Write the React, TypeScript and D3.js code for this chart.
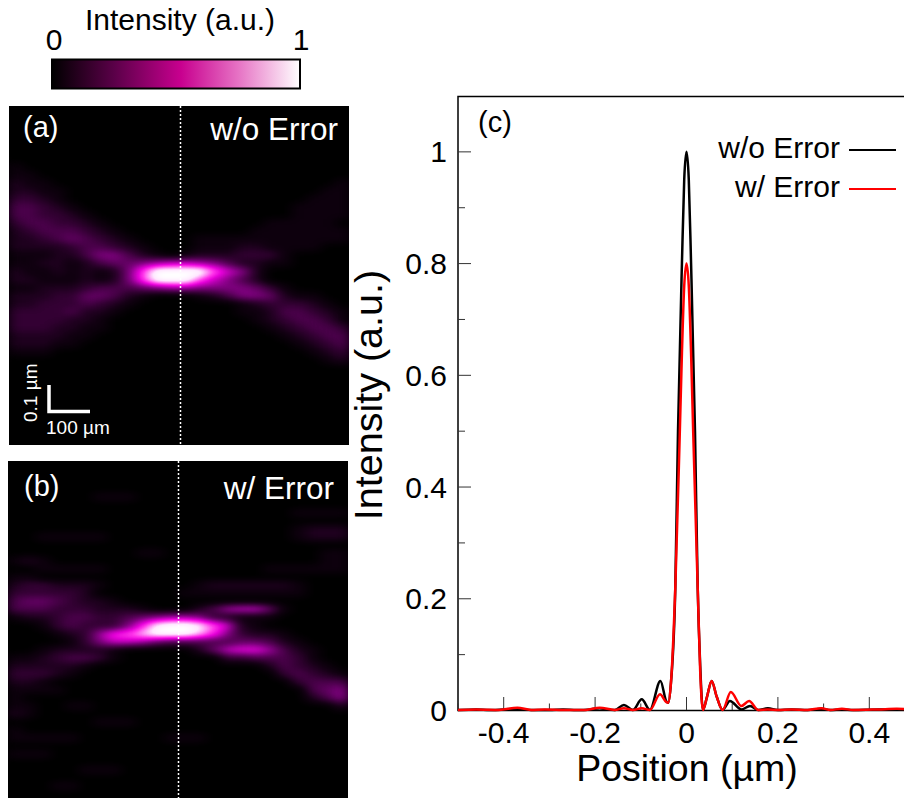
import React from "react";
import * as d3 from "d3";

// line profiles (c)
const blackPos = [-0.5, -0.46, -0.43, -0.37, -0.34, -0.3, -0.27, -0.24, -0.21, -0.19, -0.175, -0.157, -0.137, -0.117, -0.098, -0.08, -0.057, -0.044, -0.04, -0.034, -0.0245, -0.0186, -0.01, -0.005, 0, 0.005, 0.01, 0.0186, 0.0245, 0.03, 0.036, 0.045, 0.055, 0.066, 0.079, 0.095, 0.12, 0.139, 0.157, 0.178, 0.2, 0.23, 0.265, 0.295, 0.315, 0.34, 0.365, 0.42, 0.46, 0.5];
const blackVal = [0.001, 0.002, 0.001, 0.003, 0.001, 0.001, 0.002, 0.001, 0.002, 0.004, 0.002, 0.001, 0.01, 0.001, 0.02, 0.001, 0.053, 0.016, 0.014, 0.05, 0.22, 0.5, 0.8, 0.95, 1, 0.95, 0.8, 0.5, 0.22, 0.08, 0.001, 0.025, 0.053, 0.025, 0.001, 0.017, 0.002, 0.008, 0.001, 0.004, 0.001, 0.002, 0.001, 0.003, 0.001, 0.002, 0.001, 0.002, 0.002, 0.001];
const redPos = [-0.5, -0.46, -0.41, -0.37, -0.34, -0.31, -0.27, -0.22, -0.19, -0.157, -0.137, -0.117, -0.098, -0.08, -0.058, -0.044, -0.04, -0.034, -0.0245, -0.0146, -0.01, -0.005, 0, 0.005, 0.01, 0.0146, 0.0245, 0.03, 0.036, 0.045, 0.055, 0.066, 0.079, 0.097, 0.12, 0.137, 0.157, 0.178, 0.2, 0.23, 0.265, 0.295, 0.315, 0.34, 0.365, 0.42, 0.46, 0.5];
const redVal = [0.001, 0.002, 0.001, 0.005, 0.001, 0.002, 0.001, 0.001, 0.005, 0.001, 0.004, 0.001, 0.004, 0.001, 0.029, 0.015, 0.014, 0.05, 0.22, 0.5, 0.64, 0.76, 0.8, 0.76, 0.64, 0.5, 0.22, 0.07, 0.001, 0.025, 0.053, 0.025, 0.001, 0.033, 0.008, 0.017, 0.001, 0.002, 0.001, 0.002, 0.001, 0.004, 0.001, 0.003, 0.001, 0.002, 0.003, 0.001];

const xMajor = [-0.4, -0.2, 0, 0.2, 0.4];
const xMinor = [-0.5, -0.3, -0.1, 0.1, 0.3];
const yMajor = [0, 0.2, 0.4, 0.6, 0.8, 1];
const yMinor = [0.1, 0.3, 0.5, 0.7, 0.9];

// heatmaps, one hex digit per cell (0 = dark, f = brightest)
const gridA = [
  "000000000000000000000000",
  "000000000000000000000000",
  "000000000000000000000000",
  "000000000000000000000000",
  "000000000000000000000000",
  "000000000000000000000000",
  "000000000000000000000000",
  "100000000000000000000000",
  "110000000000000000000000",
  "211000000000000000000001",
  "221100000000000000000011",
  "332100000000000000000111",
  "443210000000000000001111",
  "443321000000000000001111",
  "344332100000000000111110",
  "234443210000000001111111",
  "223454321000011111111111",
  "222234432100011122111100",
  "111224664210122233310000",
  "112212455678876422110000",
  "211212126bffffb862000000",
  "221112126bfffb8642000000",
  "112223444567766665310000",
  "222335542100012466521100",
  "223334321000000012333210",
  "333342210000000011244321",
  "333322100000000001234431",
  "333221100000000000123443",
  "222211000000000000012344",
  "222110000000000000001234",
  "111000000000000000000123",
  "000000000000000000000012",
  "000000000000000000000000",
  "000000000000000000000000",
  "000000000000000000000000",
  "000000000000000000000000",
  "000000000000000000000000",
  "000000000000000000000000",
  "000000000000000000000000",
  "000000000000000000000000",
  "000000000000000000000000",
  "000000000000000000000000",
];

const gridB = [
  "000000000000000000000000",
  "000000000000000000000000",
  "000000000000000000000000",
  "000000000000000000000000",
  "000000111000000000000000",
  "000000000000000000000000",
  "000000000000000000001111",
  "000000000000000000000000",
  "000000000000000000001222",
  "001111100000000000001222",
  "000000000000000000000000",
  "000000000110000000000011",
  "121000000000000000000011",
  "001111100000000000111111",
  "110000000000000000000000",
  "233222100000012222221000",
  "333332000000111111111000",
  "455432210000000000000000",
  "444333222100024788510000",
  "122344334567763211100000",
  "001343336aeffeb821000000",
  "0001237abdfffda632210000",
  "000013688754444455421000",
  "001222210000025899742100",
  "112344310000000334443100",
  "222221000000000000243210",
  "333210000000000000034321",
  "221000000000000000003444",
  "111100000000000000000456",
  "100000000000000000000246",
  "110011000000000000000002",
  "210000000000000000000000",
  "000000111000000000000000",
  "100000000000000000000000",
  "111110000001110000000000",
  "000000000000000000000000",
  "111000000000000000000000",
  "000000000000000000000000",
  "000001110000000000000000",
  "000000000000000000000000",
  "000110000000000000000000",
  "000000000000000000000000",
];

const colorbarStops = [
  ["0%", "#000000"],
  ["25%", "#5a0048"],
  ["52%", "#c8008f"],
  ["75%", "#e672c4"],
  ["100%", "#ffffff"],
];

const toneR = "0 .08 .2 .34 .5 .7 .9 1 1 1 1";
const toneG = "0 0 0 0 0 0 0 .2 .55 .9 1";
const toneB = "0 .08 .2 .34 .5 .68 .85 .92 .96 1 1";

const FONT = "'Liberation Sans', Arial, sans-serif";

const width = 904;
const height = 798;

const x = d3.scaleLinear().domain([-0.5, 0.5]).range([458, 915]);
const y = d3.scaleLinear().domain([0, 1.1]).range([710.5, 96]);

const curve = d3
  .line<number>()
  .curve(d3.curveMonotoneX);

function profile(pos: number[], val: number[]) {
  return curve.x((_, i) => x(pos[i])).y((d) => y(d))(val) || "";
}

function Heatmap({ id, grid, left, top, w, h, dash }: any) {
  const rows = d3.scaleBand<number>().domain(d3.range(grid.length)).range([top, top + h]);
  const cols = d3.scaleBand<number>().domain(d3.range(grid[0].length)).range([left, left + w]);
  return (
    <g>
      <clipPath id={`clip-${id}`}>
        <rect x={left} y={top} width={w} height={h} />
      </clipPath>
      <g clipPath={`url(#clip-${id})`}>
        <rect x={left} y={top} width={w} height={h} fill="#000" />
        <g filter="url(#tone)">
          <rect x={left} y={top} width={w} height={h} fill="#000" />
          {grid.map((row: string, r: number) =>
            row.split("").map((c, k) => {
              const v = Math.round((parseInt(c, 16) / 15) * 255);
              return (
                <rect
                  key={`${r}-${k}`}
                  x={cols(k)}
                  y={rows(r)}
                  width={cols.bandwidth() + 0.5}
                  height={rows.bandwidth() + 0.5}
                  fill={`rgb(${v},${v},${v})`}
                  shapeRendering="crispEdges"
                />
              );
            })
          )}
        </g>
      </g>
      <line x1={dash} x2={dash} y1={top} y2={top + h} stroke="#fff" strokeWidth={1.5} strokeDasharray="2 2" />
    </g>
  );
}

export default function App() {
  return (
    <svg
      width={width}
      height={height}
      style={{ position: "absolute", left: 0, top: 0, display: "block", fontFamily: FONT }}
    >
      <defs>
        <linearGradient id="cbar">
          {colorbarStops.map(([o, c]) => (
            <stop key={o} offset={o} stopColor={c} />
          ))}
        </linearGradient>
        <filter id="tone" x="0" y="0" width="100%" height="100%" colorInterpolationFilters="sRGB">
          <feGaussianBlur stdDeviation="6.5 3.5" />
          <feComponentTransfer>
            <feFuncR type="table" tableValues={toneR} />
            <feFuncG type="table" tableValues={toneG} />
            <feFuncB type="table" tableValues={toneB} />
          </feComponentTransfer>
        </filter>
      </defs>

      <text x={180} y={30} fontSize={30} textAnchor="middle">Intensity (a.u.)</text>
      <text x={54} y={50} fontSize={30} textAnchor="middle">0</text>
      <text x={301} y={50} fontSize={30} textAnchor="middle">1</text>
      <rect x={52} y={59.5} width={248} height={29} fill="url(#cbar)" stroke="#000" strokeWidth={2} />

      <Heatmap id="a" grid={gridA} left={9} top={106} w={340} h={339} dash={180.5} />
      <text x={23} y={137} fontSize={29} fill="#fff">(a)</text>
      <text x={338} y={140} fontSize={31.5} fill="#fff" textAnchor="end">w/o Error</text>
      <path d="M49 385V411.5H90" fill="none" stroke="#fff" strokeWidth={3.5} />
      <text x={46} y={434} fontSize={19} fill="#fff">100 µm</text>
      <text transform="translate(37,422) rotate(-90)" fontSize={19} fill="#fff">0.1 µm</text>

      <Heatmap id="b" grid={gridB} left={8} top={461} w={340} h={337} dash={178.5} />
      <text x={24} y={496} fontSize={29} fill="#fff">(b)</text>
      <text x={334} y={499} fontSize={31.5} fill="#fff" textAnchor="end">w/ Error</text>

      {/* axes of (c) */}
      <path d={`M${width} 96.5H458V710.5H${width}`} fill="none" stroke="#000" strokeWidth={1.5} />
      {xMajor.map((t) => (
        <g key={t}>
          <line x1={x(t)} x2={x(t)} y1={710} y2={697} stroke="#333" />
          <text x={x(t)} y={742.5} fontSize={30} textAnchor="middle">{t}</text>
        </g>
      ))}
      {xMinor.map((t) => (
        <line key={t} x1={x(t)} x2={x(t)} y1={710} y2={703.5} stroke="#333" />
      ))}
      {yMajor.map((t) => (
        <g key={t}>
          <line x1={458} x2={471} y1={y(t)} y2={y(t)} stroke="#333" />
          <text x={447} y={y(t) + 10.5} fontSize={30} textAnchor="end">{t}</text>
        </g>
      ))}
      {yMinor.map((t) => (
        <line key={t} x1={458} x2={465} y1={y(t)} y2={y(t)} stroke="#333" />
      ))}
      <text x={687} y={781} fontSize={37.5} textAnchor="middle">Position (µm)</text>
      <text transform="translate(382,395) rotate(-90)" fontSize={39.5} textAnchor="middle">Intensity (a.u.)</text>
      <text x={478} y={132} fontSize={29}>(c)</text>

      <path d={profile(blackPos, blackVal)} fill="none" stroke="#000" strokeWidth={2.5} />
      <path d={profile(redPos, redVal)} fill="none" stroke="#f00" strokeWidth={2.5} />

      <text x={840} y={158} fontSize={30} textAnchor="end">w/o Error</text>
      <line x1={849} x2={896} y1={150} y2={150} stroke="#000" strokeWidth={2} />
      <text x={840} y={197} fontSize={30} textAnchor="end">w/ Error</text>
      <line x1={849} x2={896} y1={189} y2={189} stroke="#f00" strokeWidth={2} />
    </svg>
  );
}
